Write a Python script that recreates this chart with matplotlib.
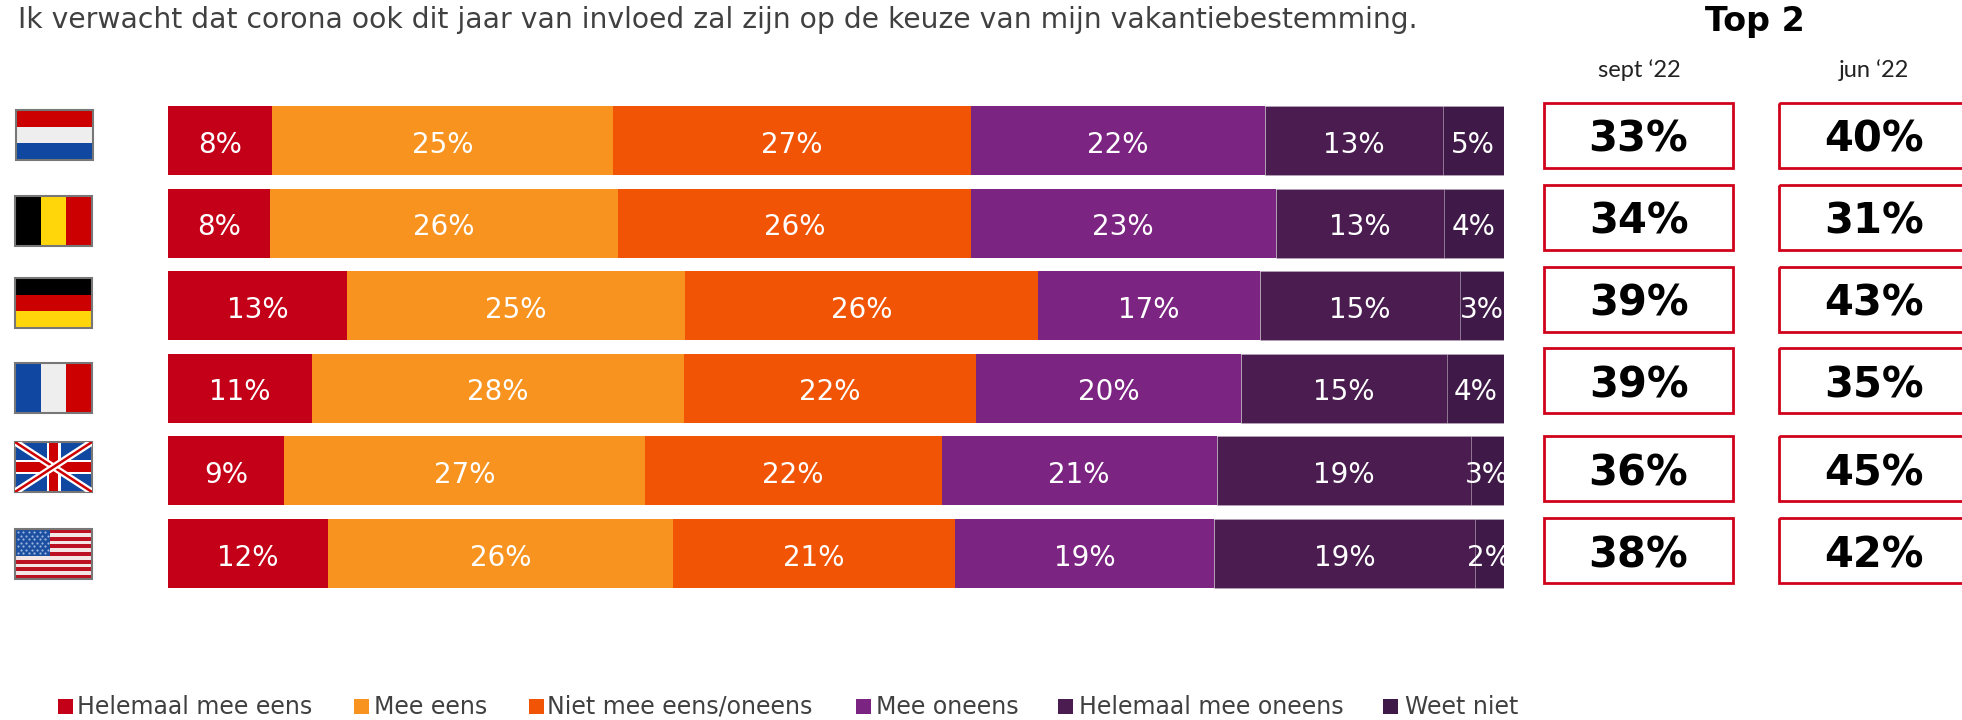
import numpy as np
import matplotlib
matplotlib.use('Agg')
from matplotlib import pyplot as plt
from matplotlib.patches import Rectangle

title = 'Ik verwacht dat corona ook dit jaar van invloed zal zijn op de keuze van mijn vakantiebestemming.'
series = ['Helemaal mee eens', 'Mee eens', 'Niet mee eens/oneens', 'Mee oneens', 'Helemaal mee oneens', 'Weet niet']
colors = ['#C40018', '#F7931E', '#F25405', '#7B2481', '#4A1C50', '#3F1A48']
countries = ['NL', 'BE', 'DE', 'FR', 'UK', 'US']

# segment widths, labels as printed
values = [
    [7.8, 25.5, 26.8, 22.0, 13.3, 4.6],
    [7.6, 26.1, 26.4, 22.8, 12.6, 4.5],
    [13.4, 25.3, 26.4, 16.6, 15.0, 3.3],
    [10.8, 27.8, 21.9, 19.8, 15.4, 4.3],
    [8.7, 27.0, 22.2, 20.6, 19.0, 2.5],
    [12.0, 25.8, 21.1, 19.4, 19.5, 2.2],
]
labels = [
    [8, 25, 27, 22, 13, 5],
    [8, 26, 26, 23, 13, 4],
    [13, 25, 26, 17, 15, 3],
    [11, 28, 22, 20, 15, 4],
    [9, 27, 22, 21, 19, 3],
    [12, 26, 21, 19, 19, 2],
]
top2_sept = [33, 34, 39, 39, 36, 38]
top2_jun = [40, 31, 43, 35, 45, 42]

W, H = 1962, 720
fig = plt.figure(figsize=(W / 100, H / 100), dpi=100)

# bars
bar_top, bar_bottom = 99.2, 594.8
ax = fig.add_axes([168 / W, 1 - bar_bottom / H, (1504 - 168) / W, (bar_bottom - bar_top) / H])
y = np.arange(len(countries))
left = np.zeros(len(countries))
arr = np.array(values)
for i, name in enumerate(series):
    # thin light edge only shows up as a separator on the dark purples
    edge = '#FFFFFF30' if i >= 4 else 'none'
    ax.barh(y, arr[:, i], left=left, height=0.835, color=colors[i], edgecolor=edge, linewidth=0.6)
    for r in y:
        ax.text(left[r] + arr[r, i] / 2, r + 0.05, '%d%%' % labels[r][i], color='white',
                fontsize=20, ha='center', va='center', clip_on=True)
    left += arr[:, i]
ax.set_xlim(0, 100)
ax.set_ylim(5.5, -0.5)
ax.axis('off')

# everything else in pixel coordinates
ov = fig.add_axes([0, 0, 1, 1])
ov.set_xlim(0, W)
ov.set_ylim(H, 0)
ov.axis('off')
ov.patch.set_alpha(0)

ov.text(18, 20, title, fontsize=20.35, color='#404040', va='center', ha='left')
ov.text(1755, 21, 'Top 2', fontsize=24, fontweight='bold', color='black', va='center', ha='center')
ov.text(1639, 70, 'sept \u201822', fontsize=17, family='Lato', va='center', ha='center', color='#222222')
ov.text(1874, 70, 'jun \u201822', fontsize=17, family='Lato', va='center', ha='center', color='#222222')

box_top = [103, 185, 267, 348, 436, 518]
for r in range(6):
    ov.add_patch(Rectangle((1544, box_top[r]), 189, 65, fill=False, ec='#D0021B', lw=2))
    ov.add_patch(Rectangle((1779, box_top[r]), 200, 65, fill=False, ec='#D0021B', lw=2))
    ov.text(1638.5, box_top[r] + 37, '%d%%' % top2_sept[r], fontsize=30, fontweight='bold',
            va='center', ha='center', color='black')
    ov.text(1874, box_top[r] + 37, '%d%%' % top2_jun[r], fontsize=30, fontweight='bold',
            va='center', ha='center', color='black')

# legend
sq_x = [58, 354, 529, 856, 1058, 1383]
tx_x = [77, 374, 547, 876, 1079, 1405]
for i, name in enumerate(series):
    ov.add_patch(Rectangle((sq_x[i], 699), 15, 15, color=colors[i], lw=0))
    ov.text(tx_x[i], 707, name, fontsize=17, color='#404040', va='center', ha='left')

# flags
RED, BLUE, WHITE, YEL = '#CC0000', '#0F47A1', '#EEEEEE', '#FFD60A'


def stripes(x, y0, w, h, cols, horiz=True):
    n = len(cols)
    for k, c in enumerate(cols):
        if horiz:
            ov.add_patch(Rectangle((x, y0 + k * h / n), w, h / n, color=c, lw=0))
        else:
            ov.add_patch(Rectangle((x + k * w / n, y0), w / n, h, color=c, lw=0))


def border(x, y0, w, h):
    ov.add_patch(Rectangle((x, y0), w, h, fill=False, ec='#777777', lw=1.5))


fw, fh = 77, 50
stripes(16, 110, fw, fh, [RED, WHITE, BLUE])
border(16, 110, fw, fh)
stripes(15, 196, fw, fh, ['black', YEL, RED], horiz=False)
border(15, 196, fw, fh)
stripes(15, 278, fw, fh, ['black', RED, YEL])
border(15, 278, fw, fh)
stripes(15, 363, fw, fh, [BLUE, WHITE, RED], horiz=False)
border(15, 363, fw, fh)

# union jack
ux, uy = 15, 442
ov.add_patch(Rectangle((ux, uy), fw, fh, color=BLUE, lw=0))
clip = Rectangle((ux, uy), fw, fh, transform=ov.transData)
for xs, ys in [((ux, ux + fw), (uy, uy + fh)), ((ux, ux + fw), (uy + fh, uy))]:
    l1, = ov.plot(xs, ys, color='white', lw=5, solid_capstyle='butt')
    l2, = ov.plot(xs, ys, color=RED, lw=1.8, solid_capstyle='butt')
    l1.set_clip_path(clip)
    l2.set_clip_path(clip)
ov.add_patch(Rectangle((ux, uy + fh / 2 - 7), fw, 14, color='white', lw=0))
ov.add_patch(Rectangle((ux + fw / 2 - 7, uy), 14, fh, color='white', lw=0))
ov.add_patch(Rectangle((ux, uy + fh / 2 - 5), fw, 10, color=RED, lw=0))
ov.add_patch(Rectangle((ux + fw / 2 - 4.5, uy), 9, fh, color=RED, lw=0))
border(ux, uy, fw, fh)

# stars and stripes
sx, sy = 15, 529
stripes(sx, sy, fw, fh, ['#BB1122' if k % 2 == 0 else '#F5E6E6' for k in range(13)])
ov.add_patch(Rectangle((sx, sy), 35, 27, color='#1C4FA0', lw=0))
for row in range(7):
    px = [sx + 3 + c * 5.4 + (row % 2) * 2.7 for c in range(6)]
    ov.scatter(px, [sy + 3 + row * 3.5] * 6, s=2.5, color='#9DB6E0', lw=0)
border(sx, sy, fw, fh)

ov.set_xlim(0, W)
ov.set_ylim(H, 0)
fig.savefig('out.png', dpi=100)
